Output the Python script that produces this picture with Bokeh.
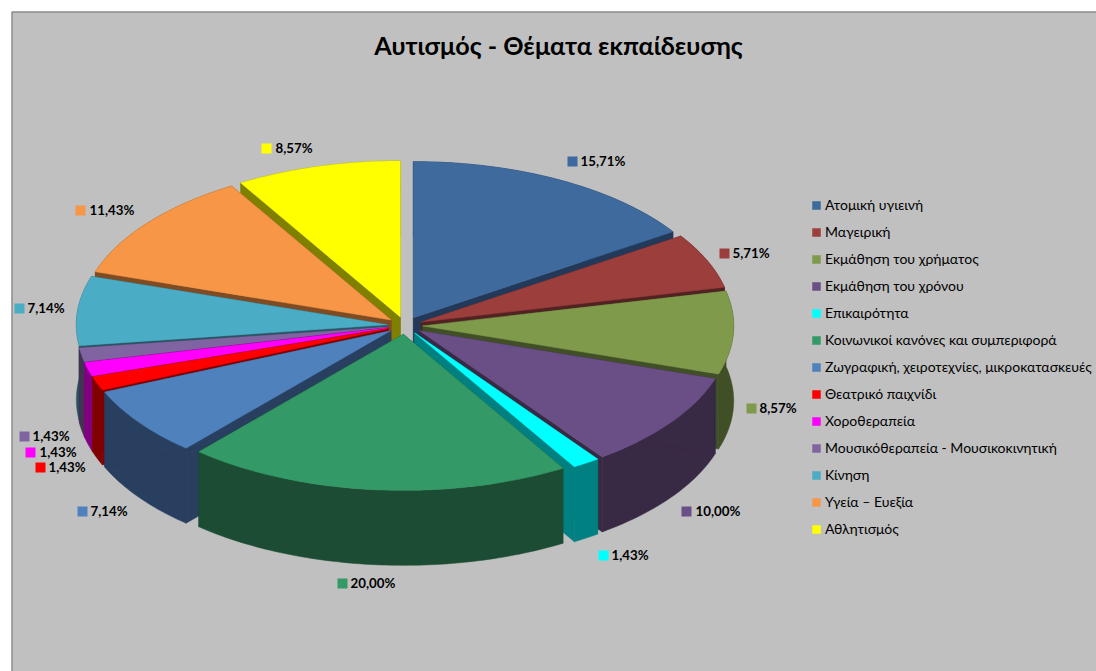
import math
from bokeh.plotting import figure
from bokeh.models import Range1d, Legend, LegendItem
from bokeh.core.properties import value
from bokeh.embed import file_html
from bokeh.resources import INLINE

TITLE = "Αυτισμός - Θέματα εκπαίδευσης"
categories = ["Ατομική υγιεινή", "Μαγειρική", "Εκμάθηση του χρήματος", "Εκμάθηση του χρόνου",
              "Επικαιρότητα", "Κοινωνικοί κανόνες και συμπεριφορά",
              "Ζωγραφική, χειροτεχνίες, μικροκατασκευές", "Θεατρικό παιχνίδι", "Χοροθεραπεία",
              "Μουσικόθεραπεία - Μουσικοκινητική", "Κίνηση", "Υγεία – Ευεξία", "Αθλητισμός"]
percent = [15.71, 5.71, 8.57, 10.00, 1.43, 20.00, 7.14, 1.43, 1.43, 1.43, 7.14, 11.43, 8.57]
top_colors = ["#3f6a9d", "#9b3e3c", "#7f9a4b", "#6a4f87", "#00ffff", "#339966", "#4f81bd",
              "#ff0000", "#ff00ff", "#8064a2", "#4bacc6", "#f79646", "#ffff00"]
side_colors = ["#22395a", "#512222", "#404f26", "#382945", "#008080", "#1c4c33", "#283f5f",
               "#800000", "#800080", "#413351", "#265663", "#7f4b23", "#808000"]
# label anchor: square centre x, y, text left x
label_sq_x = [572, 724, 751, 686, 603, 342, 82, 40, 30, 24, 19, 80, 266]
label_y = [161, 253, 408, 511, 555, 583, 511, 467, 452, 436, 308, 210, 148]
label_tx = [580, 732, 759, 695, 611, 350, 90, 48, 39, 32, 27, 89, 275]

W, H = 1096, 671
CX, CY, RX, RY, DEPTH, EXPLODE = 404.5, 325.0, 311.0, 156.0, 75.0, 0.057
FONT = "Lato"

p = figure(width=W, height=H, output_backend="svg", toolbar_location=None,
           x_range=Range1d(0, W), y_range=Range1d(H, 0), min_border=0,
           border_fill_color="white", background_fill_color="white", outline_line_color=None)
p.axis.visible = False
p.grid.visible = False

# chart area
p.quad(left=[11.5], right=[1110], top=[11.5], bottom=[690], fill_color="#c0c0c0",
       line_color="#8c8c8c", line_width=1.5)

total = sum(percent)
start = 0.0
slices = []
for i, v in enumerate(percent):
    a0 = start / total * 2 * math.pi
    a1 = (start + v) / total * 2 * math.pi
    start += v
    mid = (a0 + a1) / 2
    ox = CX + EXPLODE * RX * math.sin(mid)
    oy = CY - EXPLODE * RY * math.cos(mid)
    n = max(4, int((a1 - a0) / math.radians(1)))
    arc = [(ox + RX * math.sin(a0 + (a1 - a0) * k / n), oy - RY * math.cos(a0 + (a1 - a0) * k / n))
           for k in range(n + 1)]
    slices.append((abs(mid - math.pi), i, (ox, oy), arc))

tops = {}
for _, i, (ox, oy), arc in sorted(slices, key=lambda s: -s[0]):
    walls_x, walls_y = [], []
    drop = [(x, y + DEPTH) for x, y in arc]
    outer = arc + drop[::-1]
    walls_x.append([q[0] for q in outer]); walls_y.append([q[1] for q in outer])
    for e in (arc[0], arc[-1]):
        walls_x.append([ox, e[0], e[0], ox]); walls_y.append([oy, e[1], e[1] + DEPTH, oy + DEPTH])
    p.patches(walls_x, walls_y, fill_color=side_colors[i], line_color=side_colors[i], line_width=0.5)
    tx = [ox] + [q[0] for q in arc]
    ty = [oy] + [q[1] for q in arc]
    tops[i] = p.patches([tx], [ty], fill_color=top_colors[i], line_color=top_colors[i], line_width=0.5)

# data labels
p.scatter(label_sq_x, label_y, marker="square", size=10, fill_color=top_colors, line_color=None)
p.text(label_tx, label_y, text=[f"{v:.2f}%".replace(".", ",") for v in percent],
       text_font=value(FONT), text_font_style="bold", text_font_size="13.3px", y_offset=-1,
       text_baseline="middle", text_align="left", text_color="#000000")

p.text([558], [44], text=[TITLE], text_font=value(FONT), text_font_style="bold",
       text_font_size="25.2px", text_baseline="middle", text_align="center", text_color="#000000")

legend = Legend(items=[LegendItem(label=c, renderers=[tops[i]]) for i, c in enumerate(categories)],
                location=(811, 134), orientation="vertical", background_fill_alpha=0,
                border_line_color=None, padding=0, margin=0, spacing=10, label_height=16,
                glyph_width=10, glyph_height=10, label_standoff=4,
                label_text_font=FONT, label_text_font_size="14px", label_text_color="#000000")
p.add_layout(legend)

open("out.html", "w").write(file_html(p, INLINE))
